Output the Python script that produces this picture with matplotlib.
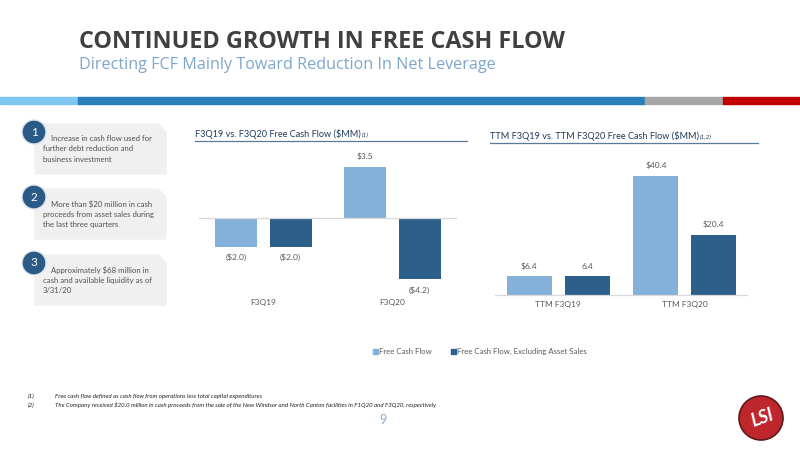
import matplotlib.pyplot as plt
import matplotlib.patches as mpatches
import numpy as np

# data
left_cats = ['F3Q19', 'F3Q20']
left_fcf = [-2.0, 3.5]
left_fcf_ex = [-2.0, -4.2]
left_fcf_lbl = ['($2.0)', '$3.5']
left_fcf_ex_lbl = ['($2.0)', '($4.2)']

right_cats = ['TTM F3Q19', 'TTM F3Q20']
right_fcf = [6.4, 40.4]
right_fcf_ex = [6.4, 20.4]
right_fcf_lbl = ['$6.4', '$40.4']
right_fcf_ex_lbl = ['6.4', '$20.4']

series_names = ['Free Cash Flow', 'Free Cash Flow, Excluding Asset Sales']
bullets = ['Increase in cash flow used for\nfurther debt reduction and\nbusiness investment',
           'More than $20 million in cash\nproceeds from asset sales during\nthe last three quarters',
           'Approximately $68 million in\ncash and available liquidity as of\n3/31/20']
footnotes = ['Free cash flow defined as cash flow from operations less total capital expenditures',
             'The Company received $20.0 million in cash proceeds from the sale of the New Windsor and North Canton facilities in F1Q20 and F3Q20, respectively']

LIGHT = '#84b1d9'
DARK = '#2c5f8a'
TXT = '#595959'

W, H = 800, 450
fig = plt.figure(figsize=(8, 4.5), dpi=100)
plt.rcParams['font.family'] = ['Lato', 'DejaVu Sans']
renderer = fig.canvas.get_renderer()


def px_axes(x0, y0, x1, y1, **kw):
    # pixel box (top-left origin) -> axes
    return fig.add_axes([x0 / W, 1 - y1 / H, (x1 - x0) / W, (y1 - y0) / H], **kw)


def fx(x):
    return x / W


def fy(y):
    return 1 - y / H


# header
fig.text(fx(79), fy(42), 'CONTINUED GROWTH IN FREE CASH FLOW', fontsize=16.8, fontweight='bold',
         color='#404040', va='center', ha='left', family=['Open Sans', 'DejaVu Sans'])
fig.text(fx(79), fy(65), 'Directing FCF Mainly Toward Reduction In Net Leverage', fontsize=11.6,
         color='#7fa7cc', va='center', ha='left', family=['Open Sans', 'DejaVu Sans'])

# stripe
stripes = [(0, 78, '#7fc6f0'), (78, 645, '#2a7fba'), (645, 723, '#a6a6a6'), (723, 800, '#c00000')]
for a, b, c in stripes:
    fig.add_artist(mpatches.Rectangle((fx(a), fy(104)), (b - a) / W, 7 / H, color=c, transform=fig.transFigure))

# bullet boxes
box_tops = [124, 189, 255]
for i, (top, txt) in enumerate(zip(box_tops, bullets)):
    x0, x1, y0, y1 = 35, 166, top, top + 50
    cut = 8
    pts = [(x0, y0), (x1 - cut, y0), (x1, y0 + cut), (x1, y1), (x0, y1)]
    poly = mpatches.Polygon([(fx(a), fy(b)) for a, b in pts], closed=True, color='#f0f0f0',
                            transform=fig.transFigure)
    fig.add_artist(poly)
    circ = mpatches.Ellipse((fx(34), fy(top + 8)), 24 / W, 24 / H, color='#2b5a87', transform=fig.transFigure,
                            ec='#d9e3ee', lw=1)
    fig.add_artist(circ)
    fig.text(fx(34), fy(top + 8), str(i + 1), color='white', fontsize=8.5, ha='center', va='center')
    fig.text(fx(43), fy(top + 11), '    ' + txt, fontsize=5.6, color='#505050', ha='left', va='top',
             linespacing=1.55)


def chart_title(x, y, main, sup, line_end):
    t = fig.text(fx(x), fy(y), main, fontsize=6.6, color='#1f3a5a', va='center')
    bb = t.get_window_extent(renderer)
    fig.text(bb.x1 / W + 1 / W, fy(y + 1), sup, fontsize=4.5, color='#1f3a5a', va='center', style='italic')
    fig.add_artist(plt.Line2D([fx(x), fx(line_end)], [fy(y + 7), fy(y + 7)], color='#5b7a99', lw=0.9))


chart_title(195, 134, 'F3Q19 vs. F3Q20 Free Cash Flow ($MM)', '(1)', 467)
chart_title(490, 136, 'TTM F3Q19 vs. TTM F3Q20 Free Cash Flow ($MM)', '(1,2)', 758)


def style(ax):
    for s in ax.spines.values():
        s.set_visible(False)
    ax.set_xticks([])
    ax.set_yticks([])
    ax.patch.set_alpha(0)


# left chart
axl = px_axes(199, 150, 457, 310)
style(axl)
x = np.arange(len(left_cats))
bw, off = 0.326, 0.21
axl.bar(x - off, left_fcf, bw, color=LIGHT)
axl.bar(x + off, left_fcf_ex, bw, color=DARK)
axl.axhline(0, color='#d9d9d9', lw=0.9)
upp = 14.6
axl.set_xlim(-0.5, 1.5)
axl.set_ylim(-(310 - 218) / upp, (218 - 150) / upp)
for xs, vals, lbls in [(x - off, left_fcf, left_fcf_lbl), (x + off, left_fcf_ex, left_fcf_ex_lbl)]:
    for xi, v, l in zip(xs, vals, lbls):
        if v >= 0:
            axl.text(xi, v + 0.45, l, ha='center', va='bottom', fontsize=6, color=TXT)
        else:
            axl.text(xi, v - 0.45, l, ha='center', va='top', fontsize=6, color=TXT)
for xi, c in zip(x, left_cats):
    axl.text(xi, -(302 - 218) / upp, c, ha='center', va='center', fontsize=6, color=TXT)

# right chart
axr = px_axes(495, 150, 748, 310)
style(axr)
x = np.arange(len(right_cats))
bw, off = 0.355, 0.228
axr.bar(x - off, right_fcf, bw, color=LIGHT)
axr.bar(x + off, right_fcf_ex, bw, color=DARK)
axr.axhline(0, color='#d9d9d9', lw=0.9)
upp = 2.95
axr.set_xlim(-0.5, 1.5)
axr.set_ylim(-(310 - 295) / upp, (295 - 150) / upp)
for xs, vals, lbls in [(x - off, right_fcf, right_fcf_lbl), (x + off, right_fcf_ex, right_fcf_ex_lbl)]:
    for xi, v, l in zip(xs, vals, lbls):
        axr.text(xi, v + 2.2, l, ha='center', va='bottom', fontsize=6, color=TXT)
for xi, c in zip(x, right_cats):
    axr.text(xi, -(305 - 295) / upp, c, ha='center', va='center', fontsize=6, color=TXT)

# legend
for sx, col, name in [(373, LIGHT, series_names[0]), (451, DARK, series_names[1])]:
    fig.add_artist(mpatches.Rectangle((fx(sx), fy(354)), 5 / W, 5 / H, color=col, transform=fig.transFigure))
    fig.text(fx(sx + 6), fy(351.5), name, fontsize=5.6, color=TXT, va='center')

# footnotes
for i, fn in enumerate(footnotes):
    yy = 396 + i * 9
    fig.text(fx(28), fy(yy), '(%d)' % (i + 1), fontsize=4.4, style='italic', color='#222222', va='center')
    fig.text(fx(55), fy(yy), fn, fontsize=4.4, style='italic', color='#222222', va='center')

fig.text(fx(383), fy(420), '9', fontsize=9, color='#8ea9c8', ha='center', va='center')

# logo
fig.add_artist(mpatches.Ellipse((fx(761), fy(418)), 44 / W, 44 / H, color='#c0272d', ec='#5a1a1a', lw=1.2,
                                transform=fig.transFigure))
fig.text(fx(762), fy(418), 'LSI', fontsize=13, color='white', style='italic', fontweight='bold',
         ha='center', va='center', rotation=20)

fig.savefig('out.png', dpi=100)
